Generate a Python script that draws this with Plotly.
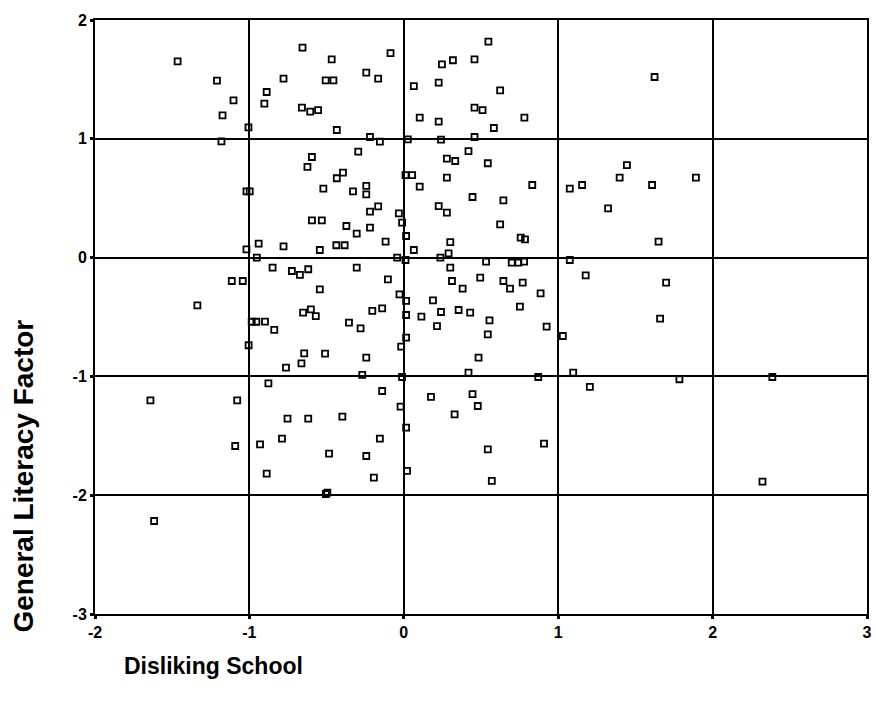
import plotly.graph_objects as go

disliking_school = [
    -1.465, -1.21, -1.103, -1.174, -1.006, -1.181, -1.019, -0.998,
    -0.656, -0.467, -0.086, -0.779, -0.506, -0.456, -0.243, -0.166, -0.888, -0.903,
    -0.66, -0.606, -0.555, -0.434, -0.219, -0.155, -0.295, -0.595, -0.624, -0.394,
    -0.434, -0.521, -0.329, -0.243, -0.243, -0.166, -0.219, -0.032, 0.011, 0.054,
    0.548, 0.247, 0.318, 0.458, 0.065, 0.226, 0.624, 0.458, 0.510, 0.103, 0.226,
    0.781, 0.583, 0.026, 0.241, 0.458, 0.419, 0.279, 0.333, 0.544, 0.279, 0.103,
    0.832, 0.445, 0.645, 0.226, 0.279,
    1.624, 1.445, 1.398, 1.155, 1.075, 1.608, 1.892, 1.323,
    -1.019, -1.114, -1.043, -1.337, -0.985, -0.955, -1.005, -1.641, -1.079,
    -0.011, -0.595, -0.531, -0.372, -0.305, -0.219, -0.940, -0.779, -0.544, -0.437,
    -0.383, -0.118, -0.952, -0.043, -0.85, -0.725, -0.673, -0.619, -0.305, -0.103,
    -0.544, -0.028, 0.015, -0.652, -0.602, -0.57, -0.204, -0.14, -0.899, -0.839,
    -0.355, -0.28, 0.015, 0.015, -0.017, -0.645, -0.663, -0.51, -0.763, -0.243,
    -0.269, -0.011, -0.877, -0.14, -0.021,
    0.624, 0.015, 0.757, 0.785, 0.301, 0.065, 0.29, 0.237, 0.011, 0.301, 0.533,
    0.699, 0.742, 0.779, 0.312, 0.381, 0.495, 0.645, 0.688, 0.77, 0.886, 0.189,
    0.114, 0.241, 0.355, 0.43, 0.752, 0.215, 0.555, 0.544, 0.925, 1.03, 0.484,
    0.419, 0.871, 0.176, 0.445, 0.479,
    1.65, 1.075, 1.178, 1.699, 1.66, 1.097, 1.205, 1.785, 2.387,
    -1.092, -1.617, -0.753, -0.619, -0.398, -0.931, -0.789, -0.155, -0.484, -0.243,
    -0.888, -0.194, -0.495, -0.505, 0.015, 0.021, 0.329, 0.544, 0.908, 0.57, 2.323,
]

general_literacy = [
    1.652, 1.49, 1.324, 1.197, 1.096, 0.979, 0.558, 0.558,
    1.768, 1.669, 1.722, 1.507, 1.492, 1.492, 1.557, 1.507, 1.394, 1.296,
    1.263, 1.229, 1.242, 1.074, 1.015, 0.976, 0.892, 0.847, 0.763, 0.715,
    0.668, 0.581, 0.558, 0.603, 0.533, 0.432, 0.387, 0.373, 0.695, 0.695,
    1.818, 1.627, 1.661, 1.669, 1.444, 1.473, 1.408, 1.263, 1.242, 1.178, 1.145,
    1.178, 1.091, 0.996, 0.993, 1.015, 0.897, 0.833, 0.813, 0.794, 0.673, 0.598,
    0.611, 0.510, 0.482, 0.434, 0.379,
    1.52, 0.779, 0.673, 0.611, 0.581, 0.611, 0.673, 0.415,
    0.07, -0.197, -0.197, -0.402, -0.54, -0.54, -0.738, -1.201, -1.201,
    0.295, 0.314, 0.314, 0.266, 0.202, 0.253, 0.118, 0.095, 0.064, 0.104,
    0.104, 0.135, 0.0, 0.0, -0.084, -0.113, -0.146, -0.098, -0.084, -0.183,
    -0.267, -0.309, -0.365, -0.463, -0.435, -0.492, -0.449, -0.427, -0.539, -0.609,
    -0.547, -0.595, -0.483, -0.673, -0.749, -0.806, -0.89, -0.808, -0.926, -0.842,
    -0.988, -1.005, -1.058, -1.123, -1.254,
    0.280, 0.182, 0.168, 0.154, 0.131, 0.064, 0.036, 0.0, -0.02, -0.084, -0.034,
    -0.042, -0.042, -0.034, -0.197, -0.261, -0.168, -0.197, -0.261, -0.211, -0.301, -0.36,
    -0.497, -0.458, -0.441, -0.463, -0.413, -0.576, -0.528, -0.646, -0.581, -0.66, -0.842,
    -0.968, -1.005, -1.173, -1.15, -1.249,
    0.135, -0.02, -0.149, -0.211, -0.513, -0.968, -1.089, -1.024, -1.005,
    -1.586, -2.217, -1.355, -1.355, -1.338, -1.572, -1.524, -1.524, -1.65, -1.67,
    -1.818, -1.852, -1.978, -1.99, -1.431, -1.796, -1.319, -1.614, -1.566, -1.88, -1.886,
]

x_ticks = [-2, -1, 0, 1, 2, 3]
y_ticks = [-3, -2, -1, 0, 1, 2]

FONT = "Liberation Sans, Arial, sans-serif"

fig = go.Figure()
fig.add_trace(go.Scatter(
    x=disliking_school, y=general_literacy, mode="markers",
    marker=dict(symbol="square-open", size=6, color="black",
                line=dict(width=1.8, color="black")),
    showlegend=False, cliponaxis=False,
))

axis_common = dict(
    showgrid=True, gridcolor="black", gridwidth=2,
    zeroline=True, zerolinecolor="black", zerolinewidth=2,
    showline=True, linecolor="black", linewidth=2, mirror=True,
    ticks="outside", ticklen=3, tickwidth=3, tickcolor="black",
    ticklabeloverflow="allow",
    tickfont=dict(family=FONT, size=16, color="black", weight="bold"),
)

fig.update_xaxes(range=[-2, 3], tickvals=x_ticks, ticktext=[str(v) for v in x_ticks],
                 **axis_common)
fig.update_yaxes(range=[-3, 2], tickvals=y_ticks, ticktext=[str(v) for v in y_ticks],
                 **axis_common)

fig.add_annotation(text="Disliking School", xref="paper", yref="paper",
                   x=0.0348, y=-0.088, xanchor="left", yanchor="middle", showarrow=False,
                   font=dict(family=FONT, size=23, color="black", weight="bold"))
fig.add_annotation(text="General Literacy Factor", xref="paper", yref="paper",
                   x=-0.092, y=0.233, xanchor="center", yanchor="middle", showarrow=False,
                   textangle=-90,
                   font=dict(family=FONT, size=28, color="black", weight="bold"))

fig.update_layout(
    width=876, height=714,
    margin=dict(l=95, r=4, t=20, b=100),
    plot_bgcolor="white", paper_bgcolor="white",
)

# remove the default page margin so the figure fills the 876x714 window exactly
fig.write_html("out.html",
               config={"displayModeBar": False, "staticPlot": True},
               post_script="document.body.style.margin='0';document.body.style.overflow='hidden';")
